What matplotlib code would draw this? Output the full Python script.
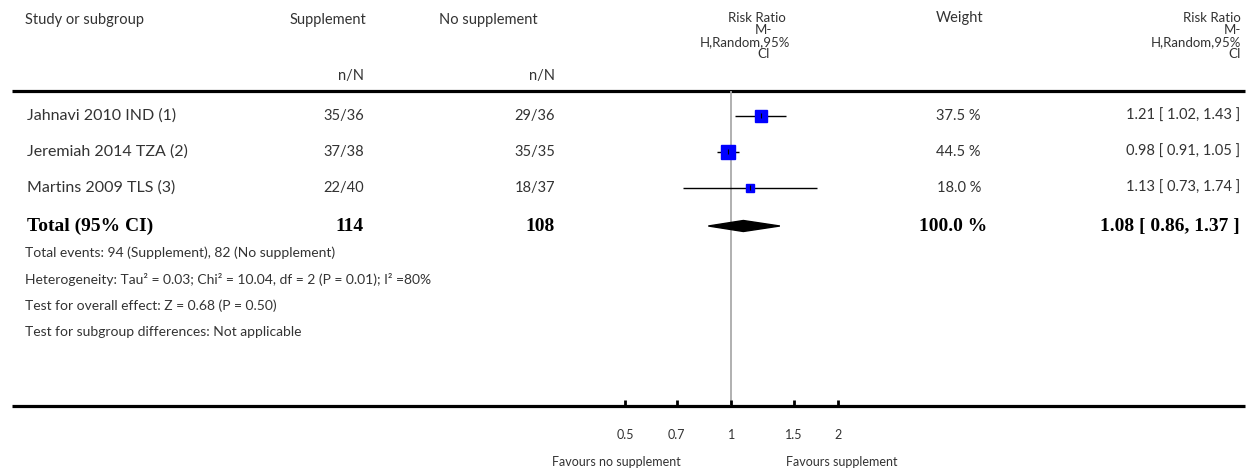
import numpy as np
import matplotlib
matplotlib.use("Agg")
import matplotlib.pyplot as plt
from matplotlib.patches import Polygon

# study rows
studies = ["Jahnavi 2010 IND (1)", "Jeremiah 2014 TZA (2)", "Martins 2009 TLS (3)"]
supp_nN = ["35/36", "37/38", "22/40"]
nosupp_nN = ["29/36", "35/35", "18/37"]
rr = [1.21, 0.98, 1.13]
ci_low = [1.02, 0.91, 0.73]
ci_high = [1.43, 1.05, 1.74]
weights = [37.5, 44.5, 18.0]

# pooled result
total_supp = 114
total_nosupp = 108
total_rr = 1.08
total_low = 0.86
total_high = 1.37
total_weight = 100.0

footnotes = [
    "Total events: 94 (Supplement), 82 (No supplement)",
    "Heterogeneity: Tau² = 0.03; Chi² = 10.04, df = 2 (P = 0.01); I² =80%",
    "Test for overall effect: Z = 0.68 (P = 0.50)",
    "Test for subgroup differences: Not applicable",
]

ticks = [0.5, 0.7, 1, 1.5, 2]
tick_labels = ["0.5", "0.7", "1", "1.5", "2"]

W, H = 1259, 473
SANS = "Lato"
SERIF = "Liberation Serif"
TXT = "#333333"
FS = 10.5

fig = plt.figure(figsize=(W / 100, H / 100), dpi=100)
ax = fig.add_axes([0, 0, 1, 1])
ax.set_xlim(0, W)
ax.set_ylim(H, 0)
ax.axis("off")

# forest panel: log scale, 1 at px 731.5, 153.7 px per ln unit
x0, k = 731.5, 153.7
fx = fig.add_axes([0, 0, 1, 1], sharey=ax)
fx.set_xscale("log")
fx.set_xlim(np.exp((0 - x0) / k), np.exp((W - x0) / k))
fx.axis("off")
fx.patch.set_alpha(0)


def t(x, y, s, ha="left", **kw):
    kw.setdefault("fontsize", FS)
    kw.setdefault("family", SANS)
    kw.setdefault("color", TXT)
    ax.text(x, y, s, ha=ha, va="center", **kw)


# header
t(25, 20, "Study or subgroup")
t(328, 20, "Supplement", ha="center")
t(488, 20, "No supplement", ha="center")
t(364, 76, "n/N", ha="right")
t(555, 76, "n/N", ha="right")
hdr = [(18, "Risk Ratio"), (30, "M-"), (42, "H,Random,95%"), (54, "CI")]
for (y, s), cx in zip(hdr, [757, 763, 745, 764]):
    t(cx, y, s, ha="center", fontsize=9.5)
t(960, 18, "Weight", ha="center")
for y, s in hdr:
    t(1241, y, s, ha="right", fontsize=9.5)

ax.hlines(91, 12, 1245, color="black", lw=2.3)
ax.hlines(406, 12, 1245, color="black", lw=2.3)

# line of no effect
fx.vlines(1, 91, 406, color="#aaaaaa", lw=1.3, zorder=1)

row_y = [116, 152, 188]
max_px = 13.5
for i, y in enumerate(row_y):
    t(27, y, studies[i], fontsize=11.5)
    t(364, y, supp_nN[i], ha="right")
    t(555, y, nosupp_nN[i], ha="right")
    t(981, y, f"{weights[i]:.1f} %", ha="right")
    t(1240, y, f"{rr[i]:.2f} [ {ci_low[i]:.2f}, {ci_high[i]:.2f} ]", ha="right")
    fx.hlines(y, ci_low[i], ci_high[i], color="black", lw=1.0, zorder=2)
    side = max_px * np.sqrt(weights[i] / max(weights))
    fx.plot(rr[i], y, marker="s", ms=side * 0.72, color="#0000ff", mec="#0000ff", zorder=3)
    fx.vlines(rr[i], y - 2.5, y + 2.5, color="black", lw=0.8, zorder=4)

# total row
ty = 226
bold = dict(family=SERIF, weight="bold", fontsize=14, color="black")
t(27, ty, "Total (95% CI)", **bold)
t(364, ty, str(total_supp), ha="right", **bold)
t(555, ty, str(total_nosupp), ha="right", **bold)
t(987, ty, f"{total_weight:.1f} %", ha="right", **bold)
t(1240, ty, f"{total_rr:.2f} [ {total_low:.2f}, {total_high:.2f} ]", ha="right", **bold)
fx.add_patch(Polygon([(total_low, ty), (total_rr, ty - 5.5), (total_high, ty), (total_rr, ty + 5.5)],
                     closed=True, color="black", zorder=3))

for y, s in zip([253, 279, 306, 332], footnotes):
    t(25, y, s, fontsize=10)

# axis ticks
fx.vlines(ticks, 400, 406, color="black", lw=2)
for v, lab in zip(ticks, tick_labels):
    fx.text(v, 435, lab, ha="center", va="center", fontsize=9, family=SANS, color=TXT)
t(616, 462, "Favours no supplement", ha="center", fontsize=9)
t(842, 462, "Favours supplement", ha="center", fontsize=9)

fig.savefig("out.png", dpi=100)
